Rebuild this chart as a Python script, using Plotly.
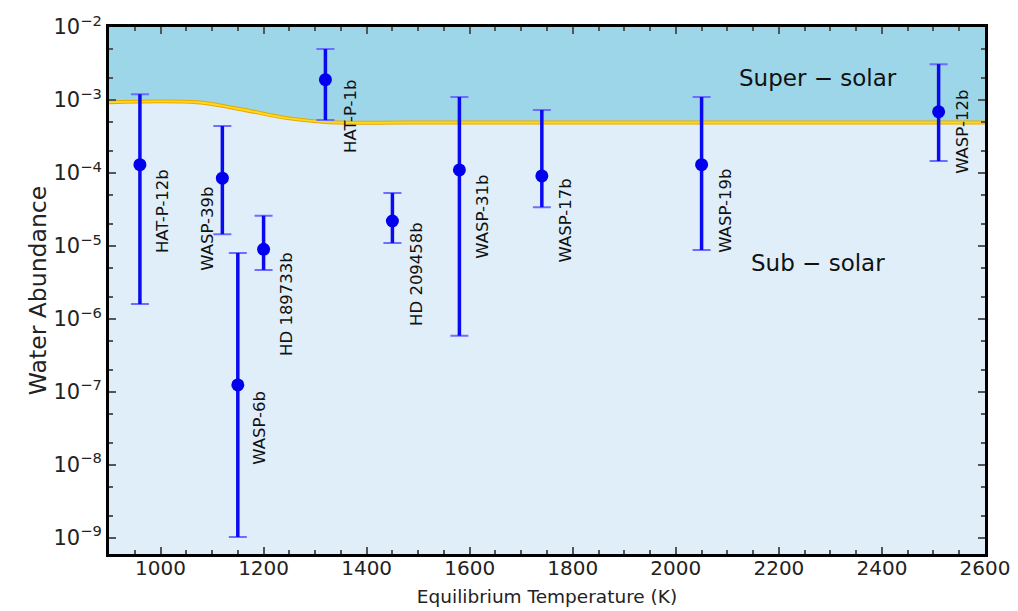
import math
import plotly.graph_objects as go

planets = ["HAT-P-12b", "WASP-39b", "WASP-6b", "HD 189733b", "HAT-P-1b",
           "HD 209458b", "WASP-31b", "WASP-17b", "WASP-19b", "WASP-12b"]
temps = [960, 1120, 1150, 1200, 1320, 1450, 1580, 1740, 2050, 2510]
water = [1.3e-4, 8.5e-5, 1.25e-7, 9.0e-6, 1.9e-3, 2.2e-5, 1.1e-4, 9.1e-5, 1.3e-4, 6.9e-4]
err_hi = [1.2e-3, 4.4e-4, 8.0e-6, 2.6e-5, 5.0e-3, 5.3e-5, 1.1e-3, 7.3e-4, 1.1e-3, 3.1e-3]
err_lo = [1.6e-6, 1.45e-5, 1.03e-9, 4.7e-6, 5.3e-4, 1.1e-5, 5.9e-7, 3.4e-5, 8.8e-6, 1.46e-4]

# label placement: horizontal shift (px) from the point, value at the label's top end
label_shift = [22, -15, 22, 23, 25, 24, 23, 24, 24, 24]
label_top = [1.2e-4, 7.0e-5, 1.1e-7, 8.7e-6, 2.0e-3, 2.3e-5, 1.02e-4, 8.9e-5, 1.2e-4, 1.45e-3]

solar_T = [900, 1070, 1150, 1250, 1320, 1500, 2600]
solar_w = [9.3e-4, 9.3e-4, 7.6e-4, 5.6e-4, 5.0e-4, 4.9e-4, 4.9e-4]
top_w = [1e-2] * len(solar_T)

xticks = [1000, 1200, 1400, 1600, 1800, 2000, 2200, 2400, 2600]
yexp = [-2, -3, -4, -5, -6, -7, -8, -9]

FONT = "DejaVu Sans, sans-serif"

fig = go.Figure()
fig.add_trace(go.Scatter(x=solar_T, y=solar_w, mode="lines", line=dict(width=0, shape="spline"),
                         showlegend=False, hoverinfo="skip"))
fig.add_trace(go.Scatter(x=solar_T, y=top_w, mode="lines", line=dict(width=0),
                         fill="tonexty", fillcolor="#9dd6e8", showlegend=False, hoverinfo="skip"))
fig.add_trace(go.Scatter(x=solar_T, y=solar_w, mode="lines",
                         line=dict(color="#e8a800", width=4, shape="spline"),
                         showlegend=False, hoverinfo="skip"))
fig.add_trace(go.Scatter(x=solar_T, y=solar_w, mode="lines",
                         line=dict(color="#ffd91a", width=2, shape="spline"),
                         showlegend=False, hoverinfo="skip"))

ep = [h - w for h, w in zip(err_hi, water)]
em = [w - l for w, l in zip(water, err_lo)]
# light caps underneath
fig.add_trace(go.Scatter(
    x=temps, y=water, mode="markers", marker=dict(size=1, opacity=0),
    error_y=dict(type="data", symmetric=False, array=ep, arrayminus=em,
                 color="#6d6dff", thickness=2, width=9),
    showlegend=False, hoverinfo="skip"))
fig.add_trace(go.Scatter(
    x=temps, y=water, mode="markers",
    marker=dict(color="#0000ee", size=13),
    error_y=dict(type="data", symmetric=False, array=ep, arrayminus=em,
                 color="#0a0af0", thickness=3.5, width=0),
    showlegend=False))

for name, t, sh, top in zip(planets, temps, label_shift, label_top):
    fig.add_annotation(x=t, y=math.log10(top), xref="x", yref="y", yanchor="top",
                       xanchor="center", text=name, textangle=-90, showarrow=False,
                       xshift=sh, font=dict(family=FONT, size=16.5, color="#111"))

fig.add_annotation(x=2275, y=math.log10(2.0e-3), text="Super \u2212 solar", showarrow=False,
                   font=dict(family=FONT, size=23, color="#111"))
fig.add_annotation(x=2275, y=math.log10(5.9e-6), text="Sub \u2212 solar", showarrow=False,
                   font=dict(family=FONT, size=23, color="#111"))

fig.update_layout(
    width=1010, height=603,
    margin=dict(l=101, r=33, t=19, b=57),
    paper_bgcolor="white", plot_bgcolor="#e0eef9",
    font=dict(family=FONT, size=18, color="#222"),
)
fig.update_xaxes(range=[900, 2600], tickvals=xticks, ticks="inside", ticklen=7, tickwidth=2,
                 tickcolor="#555", showgrid=False, zeroline=False, automargin=False,
                 ticklabelstandoff=-6,
                 showline=True, linecolor="black", linewidth=3, mirror="allticks",
                 minor=dict(dtick=50, ticks="inside", ticklen=4, tickcolor="#555", showgrid=False),
                 title=dict(text="Equilibrium Temperature (K)", font=dict(size=18.5), standoff=12),
                 tickfont=dict(size=20))
fig.update_yaxes(type="log", range=[-9.22, -2], tickvals=[10 ** e for e in yexp],
                 ticktext=["10<sup>\u2212%d</sup>" % (-e) for e in yexp],
                 ticks="inside", ticklen=7, tickwidth=2, tickcolor="#555",
                 showgrid=False, zeroline=False, automargin=False,
                 showline=True, linecolor="black", linewidth=3, mirror="allticks",
                 minor=dict(ticks="inside", ticklen=4, tickcolor="#555", showgrid=False),
                 title=dict(text="Water Abundance", font=dict(size=23.5), standoff=1),
                 tickfont=dict(size=21))

fig.write_html("out.html")
